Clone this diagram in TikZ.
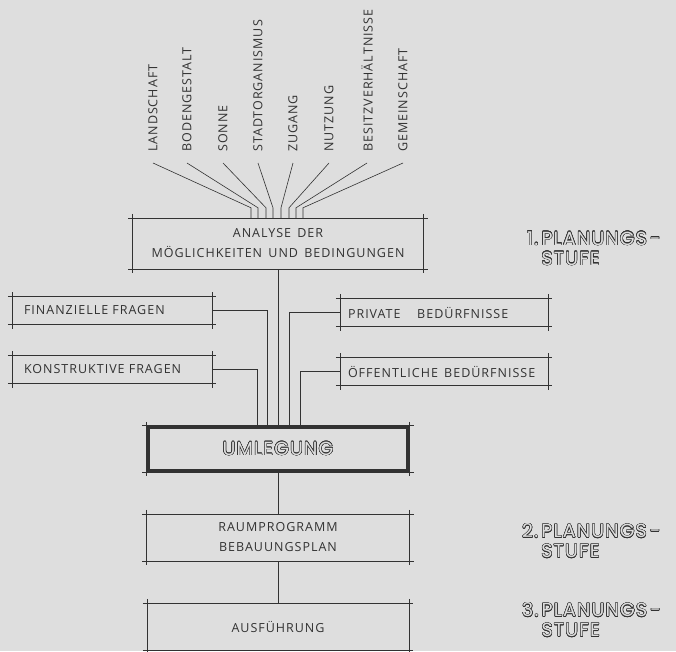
\documentclass[tikz,border=0pt]{standalone}
\usepackage{fontspec}
\usepackage{contour}
\setmainfont{Open Sans}
\newfontfamily\handfont[LetterSpace=8]{Open Sans}
\newfontfamily\stencilfont[LetterSpace=6]{Poppins}
\definecolor{paper}{RGB}{222,222,222}
\definecolor{ink}{RGB}{50,50,50}
\contourlength{0.5pt}
\newcommand{\hollow}[1]{\contour{ink}{#1}}

\tikzset{
  wire/.style={draw=ink, line width=0.6pt},
  xbox/.style={inner sep=0pt, font=\handfont\fontsize{12.5}{20}\selectfont, text=ink,
    append after command={
      ([xshift=-4pt]\tikzlastnode.north west) edge[wire] ([xshift=4pt]\tikzlastnode.north east)
      ([xshift=-4pt]\tikzlastnode.south west) edge[wire] ([xshift=4pt]\tikzlastnode.south east)
      ([yshift=4pt]\tikzlastnode.north west) edge[wire] ([yshift=-4pt]\tikzlastnode.south west)
      ([yshift=4pt]\tikzlastnode.north east) edge[wire] ([yshift=-4pt]\tikzlastnode.south east)}},
  sidebox/.style={xbox, text width=#1, align=left, inner xsep=12pt, minimum height=28pt},
  facet/.style={rotate=90, anchor=west, inner sep=0pt, text=ink, font=\handfont\fontsize{12.5}{14}\selectfont},
  stage/.style={anchor=west, align=left, inner sep=0pt, text=paper, font=\stencilfont\fontsize{19}{20}\selectfont},
}

\begin{document}
\begin{tikzpicture}[x=1pt,y=-1pt]
  \fill[paper] (0,0) rectangle (676,651);
  \useasboundingbox (0,0) rectangle (676,651);

  % factors
  \node[facet] (l1) at (153,152) {LANDSCHAFT};
  \node[facet] (l2) at (187,152) {BODENGESTALT};
  \node[facet] (l3) at (223,152) {SONNE};
  \node[facet] (l4) at (258,152) {STADTORGANISMUS};
  \node[facet] (l5) at (293,152) {ZUGANG};
  \node[facet] (l6) at (329,152) {NUTZUNG};
  \node[facet] (l7) at (367,152) {BESITZVERHÄLTNISSE};
  \node[facet] (l8) at (403,152) {GEMEINSCHAFT};

  % boxes
  \node[xbox, minimum width=291pt, minimum height=51pt, align=center] (ana) at (278,243.5)
    {ANALYSE\enspace DER\\MÖGLICHKEITEN\enspace UND\enspace BEDINGUNGEN};
  \node[sidebox=176pt] (fin) at (112,310.5) {FINANZIELLE FRAGEN};
  \node[sidebox=176pt] (kon) at (112,369.5) {KONSTRUKTIVE FRAGEN};
  \node[sidebox=192pt, inner xsep=8pt] (pri) at (444,312.5) {PRIVATE\quad\ BEDÜRFNISSE};
  \node[sidebox=192pt, inner xsep=8pt] (oef) at (444,371.5) {ÖFFENTLICHE\enspace BEDÜRFNISSE};
  \node[xbox, draw=ink, line width=3.5pt, minimum width=260pt, minimum height=43pt,
        text=paper, font=\stencilfont\fontsize{19}{20}\selectfont] (uml) at (278,449) {\hollow{UMLEGUNG}};
  \node[xbox, minimum width=263pt, minimum height=47pt, align=center] (raum) at (278,537.5)
    {RAUMPROGRAMM\\BEBAUUNGSPLAN};
  \node[xbox, minimum width=262pt, minimum height=47pt] (aus) at (278,626.5) {AUSFÜHRUNG};

  % stages
  \node[stage] (st1) at (527,248.5) {\hollow{1.\,PLANUNGS\,-}\\\hphantom{1.\,}\hollow{STUFE}};
  \node[stage] (st2) at (522,541) {\hollow{2.\,PLANUNGS\,-}\\\hphantom{2.\,}\hollow{STUFE}};
  \node[stage] (st3) at (522,620) {\hollow{3.\,PLANUNGS\,-}\\\hphantom{3.\,}\hollow{STUFE}};

  % connectors
  \foreach \i/\dx in {1/-27,2/-20,3/-12,4/-5,5/3,6/11,7/18,8/25}
    \draw[wire] ([yshift=-11pt]l\i.west) -- ([xshift=\dx pt,yshift=10pt]ana.north) -- ([xshift=\dx pt]ana.north);
  \draw[wire] (ana.south) -- (uml.north);
  \draw[wire] (fin.east) -| ([xshift=-11pt]uml.north);
  \draw[wire] (kon.east) -| ([xshift=-21pt]uml.north);
  \draw[wire] (pri.west) -| ([xshift=11pt]uml.north);
  \draw[wire] (oef.west) -| ([xshift=22pt]uml.north);
  \draw[wire] (uml.south) -- (raum.north);
  \draw[wire] (raum.south) -- (aus.north);
\end{tikzpicture}
\end{document}
